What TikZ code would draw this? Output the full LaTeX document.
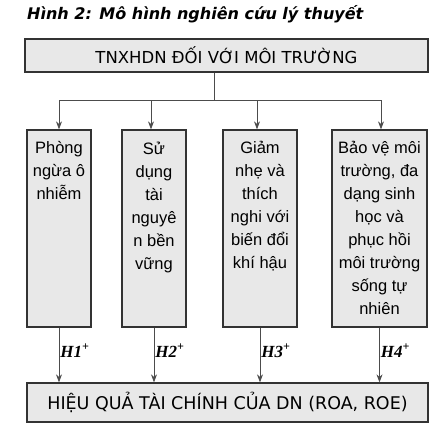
\documentclass[tikz,border=0pt]{standalone}
\usepackage{fontspec}
\setmainfont{Liberation Sans}
\newfontfamily\hfont{Liberation Serif}
\newfontfamily\wfont{DejaVu Sans}
\usetikzlibrary{positioning, arrows.meta}

\colorlet{boxfill}{black!9}
\colorlet{boxline}{black!80}
\colorlet{wirecol}{black!70}

\tikzset{
  frame/.style={draw=boxline, line width=1.3pt, fill=boxfill, inner sep=0pt},
  boxtext/.style={align=center, font=\fontsize{16.5}{23}\selectfont, inner sep=0pt, text=black},
  bigtext/.style={font=\wfont\fontsize{16.5}{18}\selectfont, text=black},
  wire/.style={draw=wirecol, fill=wirecol, line width=0.8pt},
  hlab/.style={font=\hfont\bfseries\itshape\fontsize{17}{18}\selectfont, inner sep=1pt, text=black}
}

\begin{document}
\begin{tikzpicture}[x=1pt, y=1pt, >={Stealth[length=8pt, width=6pt]}] % pixel grid, y going down as negative
    \useasboundingbox (0,0) rectangle (439,-434);

    % Title
    \node[anchor=west, inner sep=0pt, font=\wfont\bfseries\itshape\fontsize{16}{18}\selectfont, text=black] (title) at (27,-14) {Hình 2: Mô hình nghiên cứu lý thuyết};

    % Top and bottom boxes
    \node[frame, bigtext, minimum width=403pt, minimum height=33pt] (top) at (226.5,-55.5) {TNXHDN ĐỐI VỚI MÔI TRƯỜNG};
    \node[frame, bigtext, font=\wfont\fontsize{17.5}{18}\selectfont, minimum width=401pt, minimum height=39pt] (bottom) at (227.5,-402.5) {HIỆU QUẢ TÀI CHÍNH CỦA DN (ROA, ROE)};

    % Four middle boxes
    \node[frame, minimum width=64pt, minimum height=197pt] (b1) at (59,-228.5) {};
    \node[frame, minimum width=64pt, minimum height=197pt] (b2) at (154,-228.5) {};
    \node[frame, minimum width=74pt, minimum height=197pt] (b3) at (260,-228.5) {};
    \node[frame, minimum width=95pt, minimum height=197pt] (b4) at (379.5,-228.5) {};

    % Box texts
    \node[boxtext, below=12pt of b1.north] (t1) {Phòng\\ngừa ô\\nhiễm};
    \node[boxtext, below=12pt of b2.north] (t2) {Sử\\dụng\\tài\\nguyê\\n bền\\vững};
    \node[boxtext, below=12pt of b3.north] (t3) {Giảm\\nhẹ và\\thích\\nghi với\\biến đổi\\khí hậu};
    \node[boxtext, below=12pt of b4.north] (t4) {Bảo vệ môi\\trường, đa\\dạng sinh\\học và\\phục hồi\\môi trường\\sống tự\\nhiên};

    % Splitting lines from the top box
    \coordinate (split) at (214,-100);
    \coordinate (a1) at (59,-100);
    \coordinate (a2) at (151,-100);
    \coordinate (a3) at (257,-100);
    \coordinate (a4) at (381,-100);
    \draw[wire] (top.south -| split) -- (split);
    \draw[wire] (a1) -- (a4);
    \draw[wire, ->] (a1) -- (a1 |- b1.north);
    \draw[wire, ->] (a2) -- (a2 |- b2.north);
    \draw[wire, ->] (a3) -- (a3 |- b3.north);
    \draw[wire, ->] (a4) -- (a4 |- b4.north);

    % Hypotheses arrows to the bottom box
    \draw[wire, ->] (b1.south) -- node[hlab, pos=0.42, right] (h1) {H1\textsuperscript{+}} (b1.south |- bottom.north);
    \draw[wire, ->] (b2.south) -- node[hlab, pos=0.42, right] (h2) {H2\textsuperscript{+}} (b2.south |- bottom.north);
    \draw[wire, ->] (b3.south) -- node[hlab, pos=0.42, right] (h3) {H3\textsuperscript{+}} (b3.south |- bottom.north);
    \draw[wire, ->] (b4.south) -- node[hlab, pos=0.42, right] (h4) {H4\textsuperscript{+}} (b4.south |- bottom.north);
\end{tikzpicture}
\end{document}
